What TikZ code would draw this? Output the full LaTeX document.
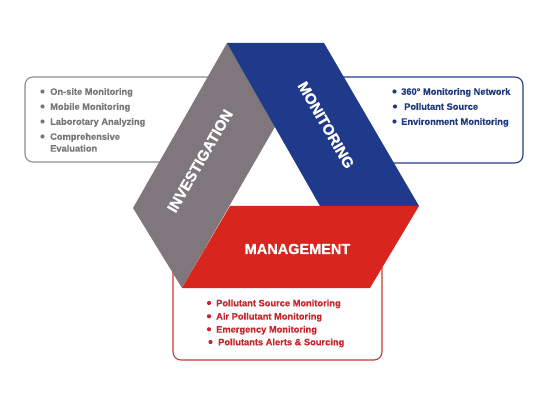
\documentclass[tikz,border=0pt]{standalone}
\usepackage{fontspec}
\setmainfont{Liberation Sans}
\newfontfamily\heavyfont{Liberation Sans Bold}[FakeBold=0.9]
\newfontfamily\itemfont{Liberation Sans Bold}[FakeBold=0.4]
\definecolor{invgrey}{HTML}{7F777C}
\definecolor{monblue}{HTML}{1F3A8A}
\definecolor{manred}{HTML}{D8261F}
\definecolor{greyline}{HTML}{8C8C8C}
\definecolor{blueline}{HTML}{23407E}
\definecolor{redline}{HTML}{C83A34}
\definecolor{greytxt}{HTML}{777777}
\definecolor{bluetxt}{HTML}{1E3A7E}
\definecolor{redtxt}{HTML}{C4262C}
\tikzset{
  infobox/.style={rounded corners=8pt, line width=1.1pt, fill=white},
  biglabel/.style={text=white, inner sep=0pt, font=\fontsize{15}{15}\selectfont\heavyfont},
  item/.style={anchor=base west, inner sep=0pt, font=\fontsize{9.3}{11}\selectfont\itemfont},
  dotmark/.style={circle, inner sep=0pt, minimum size=4.2pt}
}
\begin{document}
\begin{tikzpicture}[x=1pt,y=-1pt]
\useasboundingbox (0,0) rectangle (550,412);
\fill[white] (0,0) rectangle (550,412);
% info boxes (partly hidden behind the shapes)
\draw[infobox, draw=greyline] (25,77) rectangle (235,162);
\draw[infobox, draw=blueline] (320,77) rectangle (523,163);
\draw[infobox, draw=redline] (173,250) rectangle (382,360);
% geometry
\coordinate (A) at (227,43);
\coordinate (B) at (324,43);
\coordinate (C) at (419,206);
\coordinate (D) at (370,288);
\coordinate (E) at (182,288);
\coordinate (F) at (133,208);
\coordinate (I1) at (276,125);
\coordinate (I2) at (230,206);
\coordinate (I3) at (320,206);
\fill[invgrey] (A) -- (F) -- (E) -- (I1) -- cycle;
\fill[monblue] (A) -- (B) -- (C) -- (I3) -- cycle;
\fill[manred] (I2) -- (C) -- (D) -- (E) -- cycle;
\node[biglabel, rotate=60] (inv) at (200,161) {INVESTIGATION};
\node[biglabel, rotate=-60] (mon) at (326,125) {MONITORING};
\node[biglabel, font=\fontsize{14.5}{14.5}\selectfont\heavyfont] (man) at (297.5,249) {MANAGEMENT};
% left list
\begin{scope}[every node/.append style={text=greytxt}]
\node[dotmark, fill=greytxt] (lb1) at (42.5,91.5) {};
\node[dotmark, fill=greytxt] (lb2) at (42.5,106.5) {};
\node[dotmark, fill=greytxt] (lb3) at (42.5,121.5) {};
\node[dotmark, fill=greytxt] (lb4) at (42.5,136.5) {};
\node[item] (l1) at (50,94.8) {On-site Monitoring};
\node[item] (l2) at (50,109.8) {Mobile Monitoring};
\node[item] (l3) at (50,124.8) {Laborotary Analyzing};
\node[item] (l4) at (50,139.8) {Comprehensive};
\node[item] (l5) at (50,151.6) {Evaluation};
\end{scope}
% right list
\begin{scope}[every node/.append style={text=bluetxt}]
\node[dotmark, fill=bluetxt] (rb1) at (394.5,91.5) {};
\node[dotmark, fill=bluetxt] (rb2) at (395,106.5) {};
\node[dotmark, fill=bluetxt] (rb3) at (394.5,121.5) {};
\node[item] (r1) at (401,94.8) {360° Monitoring Network};
\node[item] (r2) at (404,109.8) {Pollutant Source};
\node[item] (r3) at (401,124.8) {Environment Monitoring};
\end{scope}
% bottom list
\begin{scope}[every node/.append style={text=redtxt}]
\node[dotmark, fill=redtxt] (bb1) at (209,303) {};
\node[dotmark, fill=redtxt] (bb2) at (209,316.3) {};
\node[dotmark, fill=redtxt] (bb3) at (209,329.3) {};
\node[dotmark, fill=redtxt] (bb4) at (210.5,342) {};
\node[item] (b1) at (216,306.3) {Pollutant Source Monitoring};
\node[item] (b2) at (216,319.6) {Air Pollutant Monitoring};
\node[item] (b3) at (216,332.6) {Emergency Monitoring};
\node[item] (b4) at (218,345.3) {Pollutants Alerts \& Sourcing};
\end{scope}
\end{tikzpicture}
\end{document}
